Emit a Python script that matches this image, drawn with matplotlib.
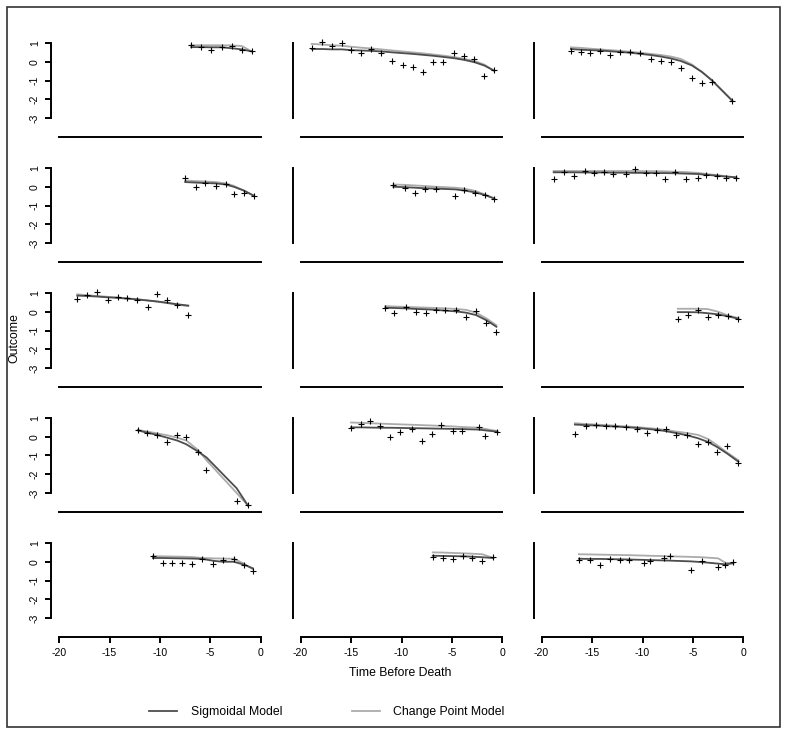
import matplotlib

matplotlib.use("Agg")
import matplotlib.pyplot as plt
from matplotlib.lines import Line2D
from matplotlib.patches import Rectangle

plt.rcParams["font.family"] = ["Liberation Sans", "DejaVu Sans"]
plt.rcParams["axes.unicode_minus"] = False

# panels in reading order: row by row, three per row
TIMES = [
    [-6.9, -5.9, -4.9, -3.9, -2.9, -1.9, -0.9],
    [-18.9, -17.9, -16.9, -15.9, -15.0, -14.0, -13.0, -12.0, -10.9, -9.9, -8.9, -7.9, -6.9, -5.9, -4.8, -3.8, -2.8, -1.8, -0.8],
    [-17.1, -16.1, -15.2, -14.2, -13.2, -12.2, -11.2, -10.2, -9.2, -8.2, -7.2, -6.2, -5.1, -4.1, -3.1, -1.1],
    [-7.5, -6.4, -5.5, -4.5, -3.5, -2.7, -1.7, -0.7],
    [-10.8, -9.7, -8.7, -7.7, -6.6, -4.7, -3.8, -2.7, -1.7, -0.8],
    [-18.8, -17.8, -16.8, -15.7, -14.8, -13.8, -12.9, -11.6, -10.7, -9.7, -8.7, -7.8, -6.8, -5.7, -4.5, -3.7, -2.6, -1.7, -0.7],
    [-18.2, -17.2, -16.2, -15.2, -14.2, -13.3, -12.3, -11.2, -10.3, -9.3, -8.3, -7.2],
    [-11.6, -10.7, -9.6, -8.6, -7.6, -6.6, -5.7, -4.6, -3.6, -2.6, -1.6, -0.6],
    [-6.5, -5.5, -4.5, -3.5, -2.5, -1.5, -0.5],
    [-12.2, -11.3, -10.3, -9.3, -8.3, -7.4, -6.2, -5.4, -2.4, -1.3],
    [-15.0, -14.0, -13.1, -12.1, -11.1, -10.1, -9.0, -8.0, -7.0, -6.1, -4.9, -4.0, -2.3, -1.7, -0.5],
    [-16.7, -15.6, -14.6, -13.6, -12.7, -11.6, -10.5, -9.6, -8.6, -7.7, -6.7, -5.6, -4.5, -3.5, -2.6, -1.6, -0.5],
    [-10.7, -9.7, -8.8, -7.8, -6.8, -5.8, -4.7, -3.8, -2.7, -1.7, -0.8],
    [-6.9, -5.9, -4.9, -3.9, -3.0, -2.0, -0.9],
    [-16.3, -15.2, -14.2, -13.2, -12.2, -11.3, -9.9, -9.3, -7.9, -7.3, -5.2, -4.1, -2.5, -1.8, -1.0],
]
OBSERVED = [
    [0.89, 0.77, 0.63, 0.77, 0.84, 0.63, 0.57],
    [0.72, 1.04, 0.86, 0.98, 0.63, 0.45, 0.68, 0.48, 0.06, -0.17, -0.28, -0.55, -0.03, -0.03, 0.48, 0.31, 0.13, -0.74, -0.44],
    [0.57, 0.50, 0.47, 0.57, 0.36, 0.52, 0.52, 0.48, 0.16, 0.04, -0.03, -0.35, -0.85, -1.15, -1.06, -2.08],
    [0.45, -0.02, 0.19, 0.04, 0.16, -0.39, -0.32, -0.51],
    [0.07, -0.07, -0.33, -0.14, -0.12, -0.47, -0.16, -0.33, -0.46, -0.63],
    [0.42, 0.77, 0.60, 0.82, 0.74, 0.77, 0.68, 0.68, 0.95, 0.72, 0.72, 0.39, 0.77, 0.39, 0.47, 0.65, 0.56, 0.49, 0.49],
    [0.68, 0.89, 1.04, 0.65, 0.81, 0.75, 0.65, 0.25, 0.96, 0.61, 0.37, -0.16],
    [0.19, -0.05, 0.26, -0.02, -0.05, 0.07, 0.12, 0.11, -0.26, 0.05, -0.60, -1.07],
    [-0.37, -0.16, 0.12, -0.28, -0.18, -0.23, -0.37],
    [0.34, 0.22, 0.11, -0.27, 0.11, -0.04, -0.79, -1.75, -3.45, -3.66],
    [0.48, 0.69, 0.83, 0.57, -0.04, 0.27, 0.39, -0.22, 0.17, 0.63, 0.29, 0.29, 0.51, 0.04, 0.27],
    [0.13, 0.57, 0.63, 0.58, 0.55, 0.51, 0.41, 0.20, 0.34, 0.39, 0.08, 0.08, -0.41, -0.29, -0.83, -0.48, -1.40],
    [0.32, -0.07, -0.07, -0.07, -0.10, 0.15, -0.10, 0.08, 0.16, -0.19, -0.51],
    [0.24, 0.20, 0.15, 0.29, 0.20, 0.02, 0.25],
    [0.11, 0.08, -0.19, 0.15, 0.11, 0.08, -0.05, 0.02, 0.20, 0.29, -0.46, 0.02, -0.28, -0.16, -0.03],
]
SIGMOID_FIT = [
    [0.78, 0.78, 0.77, 0.77, 0.72, 0.66, 0.55],
    [0.68, 0.68, 0.66, 0.66, 0.62, 0.60, 0.58, 0.55, 0.50, 0.46, 0.42, 0.37, 0.32, 0.26, 0.19, 0.10, -0.02, -0.20, -0.48],
    [0.68, 0.64, 0.62, 0.60, 0.56, 0.52, 0.48, 0.42, 0.36, 0.28, 0.18, 0.04, -0.20, -0.55, -1.00, -2.08],
    [0.25, 0.22, 0.20, 0.18, 0.12, 0.00, -0.20, -0.48],
    [0.00, -0.02, -0.05, -0.08, -0.10, -0.14, -0.20, -0.30, -0.45, -0.63],
    [0.77, 0.77, 0.77, 0.76, 0.76, 0.76, 0.75, 0.75, 0.74, 0.74, 0.73, 0.73, 0.72, 0.70, 0.68, 0.64, 0.59, 0.54, 0.50],
    [0.86, 0.84, 0.81, 0.77, 0.74, 0.70, 0.66, 0.60, 0.55, 0.48, 0.40, 0.33],
    [0.21, 0.20, 0.18, 0.15, 0.13, 0.10, 0.06, 0.02, -0.05, -0.18, -0.45, -0.80],
    [-0.02, -0.02, -0.03, -0.08, -0.14, -0.25, -0.37],
    [0.34, 0.22, 0.10, -0.05, -0.20, -0.40, -0.80, -1.10, -2.75, -3.66],
    [0.50, 0.50, 0.49, 0.48, 0.48, 0.47, 0.46, 0.45, 0.44, 0.43, 0.42, 0.41, 0.38, 0.34, 0.27],
    [0.65, 0.62, 0.60, 0.57, 0.54, 0.51, 0.47, 0.42, 0.37, 0.30, 0.20, 0.08, -0.08, -0.28, -0.55, -0.90, -1.33],
    [0.20, 0.20, 0.19, 0.18, 0.17, 0.15, 0.05, 0.00, 0.00, -0.15, -0.35],
    [0.32, 0.31, 0.30, 0.29, 0.27, 0.24, 0.20],
    [0.16, 0.15, 0.15, 0.14, 0.13, 0.12, 0.10, 0.09, 0.07, 0.06, 0.02, -0.02, -0.10, -0.14, -0.08],
]
CHANGE_POINT_FIT = [
    [0.88, 0.88, 0.88, 0.88, 0.87, 0.84, 0.55],
    [0.95, 0.92, 0.88, 0.85, 0.80, 0.75, 0.71, 0.66, 0.60, 0.55, 0.50, 0.45, 0.39, 0.33, 0.25, 0.16, 0.04, -0.15, -0.50],
    [0.77, 0.74, 0.70, 0.66, 0.62, 0.58, 0.53, 0.48, 0.42, 0.36, 0.28, 0.15, -0.15, -0.55, -1.00, -2.08],
    [0.33, 0.30, 0.28, 0.25, 0.18, 0.05, -0.20, -0.48],
    [0.12, 0.10, 0.07, 0.04, 0.00, -0.05, -0.10, -0.22, -0.42, -0.62],
    [0.84, 0.84, 0.84, 0.84, 0.84, 0.84, 0.84, 0.84, 0.84, 0.83, 0.83, 0.82, 0.80, 0.78, 0.74, 0.68, 0.62, 0.56, 0.50],
    [0.93, 0.88, 0.84, 0.80, 0.76, 0.72, 0.67, 0.60, 0.54, 0.46, 0.38, 0.30],
    [0.30, 0.28, 0.26, 0.24, 0.22, 0.20, 0.18, 0.15, 0.10, -0.05, -0.35, -0.72],
    [0.16, 0.16, 0.16, 0.14, 0.00, -0.20, -0.34],
    [0.36, 0.28, 0.18, 0.08, -0.05, -0.20, -0.72, -1.25, -3.00, -3.66],
    [0.76, 0.74, 0.72, 0.70, 0.68, 0.66, 0.64, 0.62, 0.60, 0.58, 0.55, 0.52, 0.48, 0.42, 0.30],
    [0.72, 0.68, 0.65, 0.62, 0.59, 0.55, 0.51, 0.47, 0.42, 0.36, 0.28, 0.20, 0.10, -0.12, -0.45, -0.85, -1.25],
    [0.30, 0.29, 0.28, 0.27, 0.25, 0.20, 0.18, 0.17, 0.16, -0.10, -0.40],
    [0.50, 0.49, 0.47, 0.45, 0.43, 0.40, 0.20],
    [0.40, 0.39, 0.38, 0.37, 0.36, 0.35, 0.33, 0.32, 0.30, 0.29, 0.26, 0.24, 0.18, -0.05, -0.08],
]
X_TICKS = [-20, -15, -10, -5, 0]
Y_TICKS = [-3, -2, -1, 0, 1]

W, H = 789, 736
SIG_COLOR = "#4d4d4d"
CP_COLOR = "#ababab"

fig = plt.figure(figsize=(W / 100, H / 100), dpi=100)

col_left = [51, 292.5, 533.5]
ax_w, ax_h = 218, 97.2
for i in range(15):
    r, c = divmod(i, 3)
    top = 39.4 + 125 * r
    ax = fig.add_axes((col_left[c] / W, 1 - (top + ax_h) / H, ax_w / W, ax_h / H))
    ax.set_xlim(-20.8, 0.8)
    ax.set_ylim(-3.992, 1.192)
    for s in ("top", "right"):
        ax.spines[s].set_visible(False)
    ax.spines["left"].set_bounds(-3, 1)
    ax.spines["bottom"].set_bounds(-20, 0)
    ax.spines["left"].set_linewidth(1.4)
    ax.spines["bottom"].set_linewidth(1.4)

    if r == 4:
        ax.set_xticks(X_TICKS)
        ax.set_xticklabels([str(v) for v in X_TICKS])
    else:
        ax.set_xticks([])
    if c == 0:
        ax.set_yticks(Y_TICKS)
        ax.set_yticklabels([str(v) for v in Y_TICKS], rotation=90, va="center")
    else:
        ax.set_yticks([])
    ax.tick_params(length=4, width=1.4, labelsize=7.6, pad=4)

    ax.plot(TIMES[i], CHANGE_POINT_FIT[i], color=CP_COLOR, lw=1.3)
    ax.plot(TIMES[i], SIGMOID_FIT[i], color=SIG_COLOR, lw=1.3)
    ax.plot(TIMES[i], OBSERVED[i], "+", color="black", ms=4, mew=0.8)

fig.text(400 / W, 1 - 673 / H, "Time Before Death", ha="center", va="center", fontsize=8.8)
fig.text(14 / W, 1 - 338 / H, "Outcome", ha="center", va="center", rotation=90, fontsize=8.8)

handles = [Line2D([], [], color=SIG_COLOR, lw=1.3), Line2D([], [], color=CP_COLOR, lw=1.3)]
fig.legend(handles, ["Sigmoidal Model", "Change Point Model"], loc="center",
           bbox_to_anchor=(327 / W, 1 - 712 / H), ncol=2, frameon=False,
           fontsize=8.8, handlelength=2.3, handletextpad=1.1, columnspacing=5.7,
           borderpad=0, borderaxespad=0)

fig.add_artist(Rectangle((7 / W, 1 - 727 / H), 773 / W, 720 / H, transform=fig.transFigure,
                         fill=False, lw=1.2, ec="#333333"))

fig.savefig("out.png", dpi=100)
